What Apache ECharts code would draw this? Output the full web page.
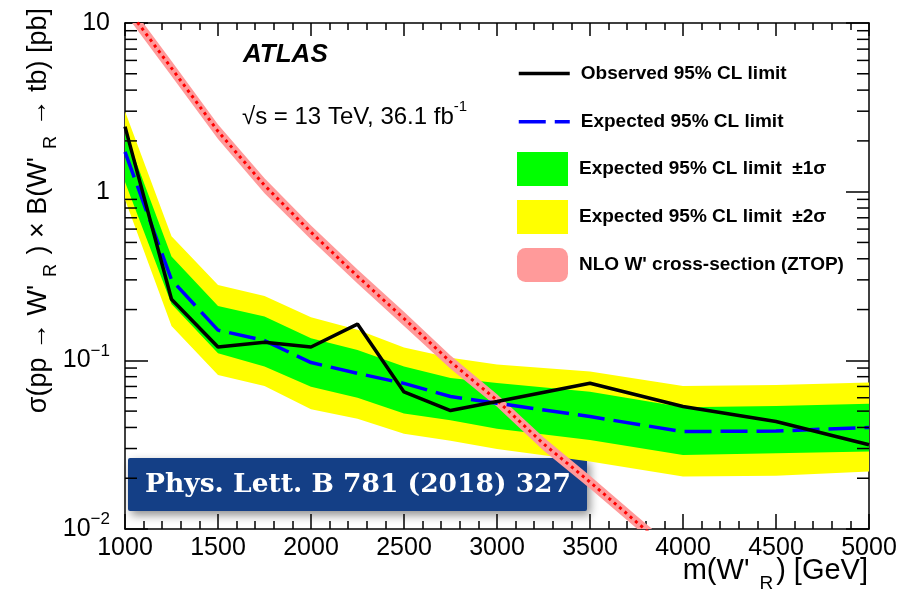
<!DOCTYPE html>
<html>
<head>
<meta charset="utf-8">
<script type="text/javascript" src="https://cdn.jsdelivr.net/npm/echarts@6/dist/echarts.min.js"></script>
</head>
<body style="margin:0;background:#fff">
<div id="main" style="width:908px;height:595px;"></div>
<script type="text/javascript">
// mass points [GeV]
var masses = [1000, 1250, 1500, 1750, 2000, 2250, 2500, 2750, 3000, 3500, 4000, 4500, 5000];
// limits [pb]
var observed = [2.43, 0.230, 0.120, 0.128, 0.120, 0.164, 0.065, 0.0504, 0.057, 0.0731, 0.0532, 0.0434, 0.0316];
var expected = [1.72, 0.300, 0.151, 0.131, 0.097, 0.0838, 0.073, 0.061, 0.0557, 0.0464, 0.0378, 0.0381, 0.040];
var minus2 = [0.90, 0.160, 0.0818, 0.0705, 0.0513, 0.045, 0.0367, 0.0334, 0.0298, 0.0251, 0.0205, 0.0207, 0.0219];
var minus1 = [1.14, 0.216, 0.110, 0.0918, 0.0698, 0.060, 0.0484, 0.0441, 0.0393, 0.0337, 0.0275, 0.0281, 0.0288];
var plus1 = [2.25, 0.412, 0.210, 0.182, 0.135, 0.115, 0.092, 0.0785, 0.0733, 0.0652, 0.0527, 0.0537, 0.0552];
var plus2 = [3.0, 0.544, 0.280, 0.241, 0.180, 0.152, 0.119, 0.1035, 0.0944, 0.0858, 0.0705, 0.0714, 0.0738];
// NLO W' cross-section (ZTOP)
var theoryMass = [1000, 1250, 1500, 1750, 2000, 2250, 2500, 2750, 3000, 3250, 3500, 3750, 4000];
var theory = [12.7, 5.4, 2.28, 1.09, 0.575, 0.315, 0.177, 0.098, 0.058, 0.032, 0.019, 0.011, 0.0064];
var theoryLow = [11.4, 4.85, 2.05, 0.98, 0.52, 0.285, 0.16, 0.089, 0.053, 0.0292, 0.0174, 0.0101, 0.0059];
var theoryHigh = [14.0, 5.95, 2.5, 1.2, 0.63, 0.345, 0.194, 0.107, 0.063, 0.035, 0.0207, 0.012, 0.0070];
// minor ticks on the log axis
var yMinorTicks = [0.02, 0.03, 0.04, 0.05, 0.06, 0.07, 0.08, 0.09, 0.2, 0.3, 0.4, 0.5, 0.6, 0.7, 0.8, 0.9, 2, 3, 4, 5, 6, 7, 8, 9];

var FONT = '"Liberation Sans", Arial, Helvetica, sans-serif';
var xMin = 1000, xMax = 5000;

function pairs(xs, ys) {
  return xs.map(function (x, i) { return [x, ys[i]]; });
}

// band drawn as one polygon through the axis scales
function bandSeries(name, xs, lo, hi, color) {
  return {
    name: name, type: 'custom', silent: true, clip: true,
    itemStyle: { color: color },
    data: xs.map(function (x, i) { return [x, lo[i], hi[i]]; }),
    encode: { x: 0, y: [1, 2] },
    renderItem: function (params, api) {
      if (params.dataIndex !== 0) return;
      var pts = [];
      for (var i = 0; i < xs.length; i++) pts.push(api.coord([xs[i], hi[i]]));
      for (var j = xs.length - 1; j >= 0; j--) pts.push(api.coord([xs[j], lo[j]]));
      return { type: 'polygon', shape: { points: pts }, style: { fill: color } };
    }
  };
}

var legendText = { fontFamily: FONT, fontWeight: 'bold', fontSize: 19, color: '#000', padding: [0, 0, 0, 6] };

var myChart = echarts.init(document.getElementById('main'));

var option = {
  animation: false,
  backgroundColor: '#fff',
  grid: { left: 125, right: 39, top: 23, bottom: 66, outerBoundsMode: 'none' },
  legend: [{
    orient: 'vertical', left: 517, top: 60, padding: 0,
    itemWidth: 51, itemHeight: 34, itemGap: 21,
    selectedMode: false,
    textStyle: legendText,
    data: [
      { name: 'Observed 95% CL limit', itemStyle: { opacity: 0 }, lineStyle: { width: 3.5 } },
      { name: 'Expected 95% CL limit', itemStyle: { opacity: 0 }, lineStyle: { width: 3.5 } }
    ]
  }, {
    orient: 'vertical', left: 517, top: 152, padding: 0,
    itemWidth: 51, itemHeight: 34, itemGap: 14,
    selectedMode: false,
    textStyle: legendText,
    data: [
      { name: 'Expected 95% CL limit  ±1σ', icon: 'rect', itemStyle: { color: '#00ff00', borderWidth: 0 } },
      { name: 'Expected 95% CL limit  ±2σ', icon: 'rect', itemStyle: { color: '#ffff00', borderWidth: 0 } },
      { name: "NLO W' cross-section (ZTOP)", icon: 'roundRect', itemStyle: { color: '#ff9a9a', borderWidth: 0 } }
    ]
  }],
  xAxis: [{
    type: 'value', min: xMin, max: xMax, interval: 500,
    axisLine: { lineStyle: { color: '#000', width: 1.5 } },
    axisTick: { inside: true, length: 15, lineStyle: { color: '#000', width: 1.5 } },
    minorTick: { show: true, splitNumber: 5, length: 8, lineStyle: { color: '#000', width: 1.5 } },
    splitLine: { show: false },
    axisLabel: { fontFamily: FONT, fontSize: 25, color: '#000', margin: 7, formatter: function (v) { return String(v); } }
  }, {
    type: 'value', min: xMin, max: xMax, interval: 500, position: 'top',
    axisLine: { lineStyle: { color: '#000', width: 1.5 } },
    axisTick: { inside: true, length: 13, lineStyle: { color: '#000', width: 1.5 } },
    minorTick: { show: true, splitNumber: 5, length: 7, lineStyle: { color: '#000', width: 1.5 } },
    splitLine: { show: false },
    axisLabel: { show: false }
  }],
  yAxis: [{
    type: 'log', logBase: 10, min: 0.01, max: 10,
    axisLine: { lineStyle: { color: '#000', width: 1.5 } },
    axisTick: { inside: true, length: 23, lineStyle: { color: '#000', width: 1.5 } },
    splitLine: { show: false },
    axisLabel: {
      margin: 15,
      formatter: function (v) {
        var e = Math.round(Math.log10(v));
        if (e === 1) return '{b|10}';
        if (e === 0) return '{b|1}';
        return '{b|10}{s|−' + (-e) + '}';
      },
      rich: {
        b: { fontFamily: FONT, fontSize: 25, color: '#000', lineHeight: 36 },
        s: { fontFamily: FONT, fontSize: 17, color: '#000', lineHeight: 14, verticalAlign: 'top' }
      }
    }
  }, {
    type: 'log', logBase: 10, min: 0.01, max: 10, position: 'right',
    axisLine: { lineStyle: { color: '#000', width: 1.5 } },
    axisTick: { inside: true, length: 23, lineStyle: { color: '#000', width: 1.5 } },
    splitLine: { show: false },
    axisLabel: { show: false }
  }],
  series: [
    bandSeries('Expected 95% CL limit  ±2σ', masses, minus2, plus2, '#ffff00'),
    bandSeries('Expected 95% CL limit  ±1σ', masses, minus1, plus1, '#00ff00'),
    bandSeries("NLO W' cross-section (ZTOP)", theoryMass, theoryLow, theoryHigh, '#ff9a9a'),
    { name: 'theory', type: 'line', data: pairs(theoryMass, theory), symbol: 'none', silent: true,
      lineStyle: { color: '#ff0000', width: 3, type: [3, 4] } },
    { name: 'Expected 95% CL limit', type: 'line', data: pairs(masses, expected), symbol: 'none', color: '#0000ff',
      lineStyle: { color: '#0000ff', width: 3.5, type: [27, 9] } },
    { name: 'Observed 95% CL limit', type: 'line', data: pairs(masses, observed), symbol: 'none', color: '#000',
      lineStyle: { color: '#000', width: 3.5 } },
    {
      name: 'yMinor', type: 'custom', silent: true, clip: false, z: 5,
      data: yMinorTicks.map(function (v) { return [xMin, v]; }),
      renderItem: function (params, api) {
        var v = api.value(1);
        var l = api.coord([xMin, v]);
        var r = api.coord([xMax, v]);
        var st = { stroke: '#000', lineWidth: 1.5 };
        return {
          type: 'group',
          children: [
            { type: 'line', shape: { x1: l[0], y1: l[1], x2: l[0] + 12, y2: l[1] }, style: st },
            { type: 'line', shape: { x1: r[0] - 12, y1: r[1], x2: r[0], y2: r[1] }, style: st }
          ]
        };
      }
    }
  ],
  graphic: [
    {
      type: 'text', left: 243, top: 42, z: 100,
      style: { text: 'ATLAS', fontFamily: FONT, fontSize: 26, fontWeight: 'bold', fontStyle: 'italic', fill: '#000' }
    },
    {
      type: 'text', x: 242, y: 117, z: 100,
      style: {
        text: '{a|√s = 13 TeV, 36.1 fb}{p|-1}', verticalAlign: 'middle',
        rich: {
          a: { fontFamily: FONT, fontSize: 24, fill: '#000', lineHeight: 36 },
          p: { fontFamily: FONT, fontSize: 15, fill: '#000', lineHeight: 14, verticalAlign: 'top' }
        }
      }
    },
    {
      type: 'text', x: 39, y: 8, rotation: Math.PI / 2, z: 100,
      style: {
        text: "{a|σ(pp → W'}{s|R}{a| ) × B(W'}{s|R}{a| → tb) [pb]}", align: 'right', verticalAlign: 'middle',
        rich: {
          a: { fontFamily: FONT, fontSize: 27, fill: '#000', lineHeight: 42 },
          s: { fontFamily: FONT, fontSize: 18, fill: '#000', lineHeight: 12, verticalAlign: 'bottom', padding: [0, 2, 0, 8] }
        }
      }
    },
    {
      type: 'text', x: 868, y: 571, z: 100,
      style: {
        text: "{a|m(W'}{s|R}{a|) [GeV]}", align: 'right', verticalAlign: 'middle',
        rich: {
          a: { fontFamily: FONT, fontSize: 29, fill: '#000', lineHeight: 44 },
          s: { fontFamily: FONT, fontSize: 19, fill: '#000', lineHeight: 12, verticalAlign: 'bottom', padding: [0, 3, 0, 10] }
        }
      }
    },
    {
      type: 'group', z: 200,
      children: [
        {
          type: 'rect', shape: { x: 128, y: 458, width: 459, height: 53, r: 2 },
          style: { fill: '#143f86', shadowBlur: 10, shadowOffsetX: 3, shadowOffsetY: 4, shadowColor: 'rgba(0,0,0,0.45)' }
        },
        {
          type: 'text', x: 358, y: 485,
          style: { text: 'Phys. Lett. B 781 (2018) 327', align: 'center', verticalAlign: 'middle',
            fontFamily: '"DejaVu Serif", serif', fontWeight: 'bold', fontSize: 26.5, fill: '#fff' }
        }
      ]
    }
  ]
};

myChart.setOption(option);
</script>
</body>
</html>
